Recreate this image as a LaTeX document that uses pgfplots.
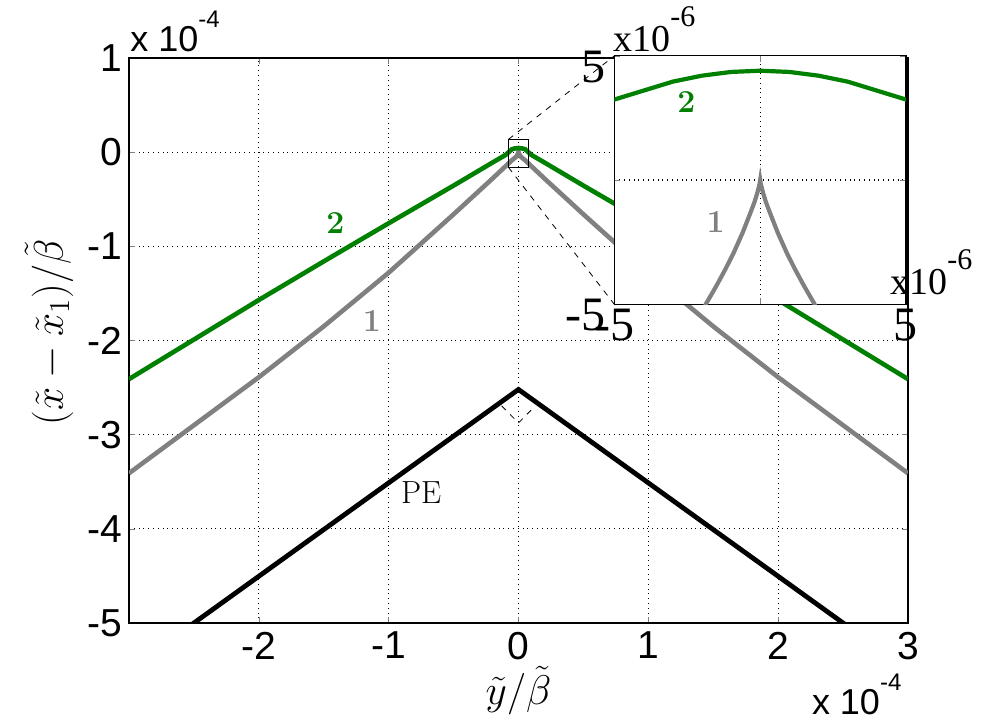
\documentclass[border=0pt]{standalone}
\usepackage{fontspec}
\usepackage{pgfplots}
\pgfplotsset{compat=1.18}
\newfontfamily\arialf{Liberation Sans}
\newfontfamily\timesf{Liberation Serif}
\definecolor{mgreen}{rgb}{0,0.5,0}
\definecolor{mgray}{rgb}{0.5,0.5,0.5}
\begin{document}
\begin{tikzpicture}
\begin{axis}[
  at={(0,0)}, anchor=south west,
  scale only axis, width=389.5pt, height=282.5pt,
  xmin=-3, xmax=3, ymin=-5, ymax=1,
  xtick={-3,-2,-1,0,1,2,3}, xticklabels={,-2,-1,0,1,2,3},
  ytick={-5,-4,-3,-2,-1,0,1}, yticklabels={-5,-4,-3,-2,-1,0,1},
  tick align=inside, tick pos=both, major tick length=3pt,
  grid=major, major grid style={black, dotted, line width=0.5pt},
  axis line style={black, line width=0.6pt},
  ticklabel style={font=\arialf\fontsize{19.5}{20}\selectfont},
  xticklabel style={yshift=-1pt},
  xlabel={$\tilde{y}/\tilde{\beta}$},
  ylabel={$(\tilde{x}-\tilde{x}_1)/\tilde{\beta}$},
  label style={font=\fontsize{20}{22}\selectfont},
  xlabel style={at={([yshift=-34pt]rel axis cs:0.5,0)}, anchor=center},
  ylabel style={at={([xshift=-40pt,yshift=4pt]rel axis cs:0,0.5)}, anchor=center},
  clip=true,
]
% PE
\addplot[black, line width=2.4pt] coordinates {(-3,-5.5) (-2.5,-5) (0,-2.52) (2.5,-5) (3,-5.5)};
% curve 1
\addplot[mgray, line width=2.3pt] coordinates {
(-3,-3.41) (-2.5,-2.90) (-2,-2.39) (-1.5,-1.85) (-1,-1.28) (-0.5,-0.66) (-0.2,-0.28) (-0.1,-0.15) (-0.05,-0.085)
(-0.0186,-0.0496) (-0.0092,-0.0295) (-0.0035,-0.0134) (0,0)
(0.0035,-0.0134) (0.0092,-0.0295) (0.0186,-0.0496)
(0.05,-0.085) (0.1,-0.15) (0.2,-0.28) (0.5,-0.66) (1,-1.28) (1.5,-1.85) (2,-2.39) (2.5,-2.90) (3,-3.41)};
% curve 2
\addplot[mgreen, line width=2.3pt] coordinates {
(-3,-2.41) (-2.5,-1.99) (-2,-1.57) (-1.5,-1.16) (-1,-0.755) (-0.5,-0.355) (-0.2,-0.11) (-0.1,-0.03) (-0.05,0.032) (-0.03,0.039) (0,0.044)
(0.03,0.039) (0.05,0.032) (0.1,-0.03) (0.2,-0.11) (0.5,-0.355) (1,-0.755) (1.5,-1.16) (2,-1.57) (2.5,-1.99) (3,-2.41)};
\draw[black, line width=0.5pt] (axis cs:-0.078,-0.16) rectangle (axis cs:0.08,0.135);
\draw[black, dashed, line width=0.4pt] (axis cs:-0.13,-2.694) -- (axis cs:0,-2.875) -- (axis cs:0.13,-2.694);
\node[text=mgreen, font=\bfseries\fontsize{16}{16}\selectfont] at (axis cs:-1.41,-0.75) {2};
\node[text=mgray, font=\bfseries\fontsize{16}{16}\selectfont] at (axis cs:-1.13,-1.79) {1};
\node[font=\fontsize{16}{16}\selectfont] at (axis cs:-0.75,-3.61) {PE};
\coordinate (sqTL) at (axis cs:-0.078,0.135);
\coordinate (sqBL) at (axis cs:-0.078,-0.16);
\end{axis}
\draw[black, dashed, line width=0.4pt] (sqTL) -- (242.7pt,283.6pt);
\draw[black, dashed, line width=0.4pt] (sqBL) -- (242.7pt,159.3pt);
\node[anchor=base west, inner sep=0pt] at (0.5pt,285.5pt) {\arialf\fontsize{18}{18}\selectfont x 10\raisebox{12pt}{\fontsize{12}{12}\selectfont -4}};
\node[anchor=base west, inner sep=0pt] at (341.3pt,-46pt) {\arialf\fontsize{18}{18}\selectfont x 10\raisebox{12pt}{\fontsize{12}{12}\selectfont -4}};
\begin{axis}[
  at={(242.7pt,159.3pt)}, anchor=south west,
  scale only axis, width=145.8pt, height=124.3pt,
  xmin=-5, xmax=5, ymin=-5, ymax=5,
  xtick={-5,0,5}, xticklabels={-5,,5},
  ytick={-5,0,5}, yticklabels={-5,,5},
  tick align=inside, tick pos=both, major tick length=3pt,
  grid=major, major grid style={black, dotted, line width=0.6pt},
  axis line style={black, line width=0.6pt},
  axis background/.style={fill=white},
  ticklabel style={font=\timesf\fontsize{24}{24}\selectfont},
  xticklabel style={yshift=1pt},
  yticklabel style={yshift=-5.5pt, xshift=-1pt},
  clip=true,
]
\addplot[mgreen, line width=2.1pt] coordinates {
(-5.5,3.05) (-5,3.24) (-4,3.60) (-3,3.96) (-2,4.20) (-1,4.35) (0,4.40) (1,4.35) (2,4.20) (3,3.96) (4,3.60) (5,3.24) (5.5,3.05)};
\addplot[mgray, line width=2.1pt] coordinates {
(-2.0,-5.4) (-1.86,-4.98) (-1.5,-4.25) (-1.2,-3.6) (-0.92,-2.95) (-0.6,-2.11) (-0.35,-1.36) (-0.2,-0.90) (-0.1,-0.52) (-0.05,-0.30) (-0.02,-0.15) (0,0)
(0.02,-0.15) (0.05,-0.30) (0.1,-0.52) (0.2,-0.90) (0.35,-1.36) (0.6,-2.11) (0.92,-2.95) (1.2,-3.6) (1.5,-4.25) (1.86,-4.98) (2.0,-5.4)};
\node[text=mgreen, font=\bfseries\fontsize{16}{16}\selectfont] at (axis cs:-2.53,3.14) {2};
\node[text=mgray, font=\bfseries\fontsize{16}{16}\selectfont] at (axis cs:-1.53,-1.69) {1};
\end{axis}
\node[anchor=base west, inner sep=0pt] at (242pt,285.5pt) {\timesf\fontsize{19}{19}\selectfont x10\raisebox{12.5pt}{\fontsize{15}{15}\selectfont -6}};
\node[anchor=base west, inner sep=0pt] at (380.5pt,164pt) {\timesf\fontsize{19}{19}\selectfont x10\raisebox{12.5pt}{\fontsize{15}{15}\selectfont -6}};
\pgfresetboundingbox
\useasboundingbox (-64.5pt,-49pt) rectangle (437pt,311.5pt);
\end{tikzpicture}
\end{document}
